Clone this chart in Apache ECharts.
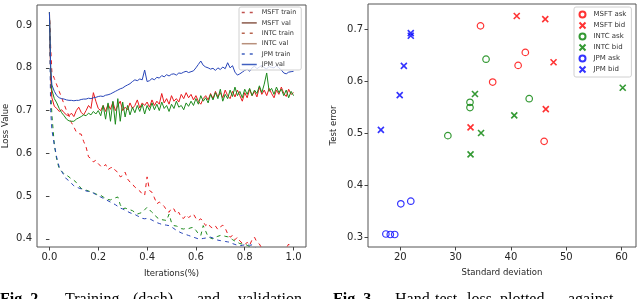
<!DOCTYPE html>
<html><head><meta charset="utf-8">
<script src="https://cdn.jsdelivr.net/npm/echarts@6/dist/echarts.min.js"></script>
<style>html,body{margin:0;padding:0;background:#fff}#c{width:640px;height:299px}</style>
</head><body><div id="c"></div>
<script>
// ---------- Left chart data ----------
var iterations = [0,0.005,0.01,0.02,0.03,0.04,0.05,0.06,0.07,0.08,0.09,0.10,0.11,0.12,0.13,0.14,0.15,0.16,0.17,0.18,0.19,0.20,0.21,0.22,0.23,0.24,0.25,0.26,0.27,0.28,0.29,0.30,0.31,0.32,0.33,0.34,0.35,0.36,0.37,0.38,0.39,0.40,0.41,0.42,0.43,0.44,0.45,0.46,0.47,0.48,0.49,0.50,0.51,0.52,0.53,0.54,0.55,0.56,0.57,0.58,0.59,0.60,0.61,0.62,0.63,0.64,0.65,0.66,0.67,0.68,0.69,0.70,0.71,0.72,0.73,0.74,0.75,0.76,0.77,0.78,0.79,0.80,0.81,0.82,0.83,0.84,0.85,0.86,0.87,0.88,0.89,0.90,0.91,0.92,0.93,0.94,0.95,0.96,0.97,0.98,0.99,1.00];

var msftTrain = [0.93,0.85,0.79,0.775,0.76,0.745,0.73,0.715,0.70,0.688,0.672,0.662,0.650,0.646,0.645,0.628,0.615,0.592,0.588,0.580,0.584,0.576,0.570,0.568,0.574,0.562,0.566,0.568,0.560,0.556,0.545,0.548,0.556,0.540,0.533,0.528,0.521,0.517,0.512,0.505,0.502,0.545,0.513,0.509,0.496,0.482,0.486,0.482,0.476,0.467,0.462,0.472,0.470,0.458,0.462,0.450,0.448,0.456,0.450,0.454,0.458,0.448,0.443,0.447,0.440,0.431,0.436,0.428,0.425,0.430,0.422,0.428,0.432,0.425,0.412,0.404,0.408,0.398,0.404,0.395,0.390,0.386,0.392,0.385,0.398,0.404,0.392,0.388,0.378,0.372,0.370,0.368,0.372,0.365,0.368,0.362,0.366,0.370,0.378,0.388,0.372,0.365];
var msftVal = [0.93,0.78,0.73,0.71,0.705,0.698,0.702,0.695,0.690,0.688,0.694,0.686,0.700,0.708,0.696,0.690,0.700,0.712,0.705,0.742,0.722,0.705,0.700,0.712,0.698,0.715,0.703,0.720,0.700,0.712,0.722,0.700,0.708,0.702,0.718,0.705,0.712,0.725,0.706,0.718,0.712,0.720,0.708,0.725,0.712,0.722,0.715,0.740,0.718,0.728,0.715,0.735,0.722,0.728,0.720,0.738,0.728,0.742,0.730,0.738,0.725,0.735,0.722,0.715,0.728,0.735,0.725,0.740,0.728,0.745,0.732,0.742,0.730,0.748,0.735,0.728,0.745,0.732,0.748,0.735,0.722,0.742,0.730,0.750,0.735,0.745,0.732,0.755,0.738,0.748,0.735,0.752,0.740,0.730,0.748,0.738,0.755,0.740,0.733,0.750,0.738,0.742];
var intcTrain = [0.93,0.75,0.69,0.62,0.585,0.564,0.558,0.552,0.549,0.545,0.540,0.537,0.532,0.525,0.518,0.516,0.514,0.512,0.510,0.508,0.505,0.503,0.502,0.498,0.495,0.492,0.491,0.494,0.496,0.498,0.480,0.470,0.472,0.470,0.468,0.466,0.462,0.458,0.460,0.462,0.468,0.474,0.468,0.462,0.458,0.450,0.447,0.445,0.444,0.443,0.458,0.438,0.431,0.430,0.428,0.424,0.423,0.425,0.424,0.426,0.427,0.420,0.412,0.408,0.431,0.418,0.405,0.402,0.400,0.404,0.406,0.408,0.408,0.406,0.405,0.404,0.398,0.395,0.392,0.389,0.388,0.388,0.385,0.382,0.379,0.377,0.375,0.373,0.372,0.370,0.369,0.368,0.367,0.366,0.365,0.364,0.363,0.362,0.362,0.361,0.360,0.360];
var intcVal = [0.93,0.80,0.748,0.728,0.718,0.705,0.695,0.688,0.680,0.676,0.675,0.675,0.680,0.683,0.686,0.690,0.688,0.694,0.690,0.698,0.692,0.700,0.688,0.712,0.680,0.718,0.675,0.722,0.668,0.728,0.675,0.720,0.685,0.712,0.690,0.708,0.695,0.712,0.698,0.715,0.692,0.712,0.700,0.718,0.702,0.715,0.700,0.720,0.705,0.712,0.698,0.715,0.705,0.722,0.708,0.712,0.702,0.718,0.710,0.722,0.712,0.728,0.715,0.735,0.722,0.730,0.718,0.738,0.725,0.742,0.728,0.750,0.722,0.738,0.728,0.748,0.733,0.755,0.735,0.745,0.730,0.750,0.738,0.752,0.735,0.748,0.740,0.758,0.742,0.762,0.788,0.745,0.752,0.738,0.755,0.742,0.750,0.735,0.748,0.730,0.745,0.735];
var jpmTrain = [0.93,0.70,0.655,0.62,0.59,0.568,0.558,0.548,0.540,0.536,0.530,0.524,0.521,0.519,0.517,0.515,0.512,0.511,0.510,0.507,0.504,0.500,0.498,0.495,0.492,0.489,0.486,0.483,0.480,0.476,0.472,0.470,0.467,0.464,0.461,0.459,0.457,0.454,0.451,0.448,0.447,0.448,0.447,0.444,0.441,0.438,0.436,0.434,0.433,0.432,0.431,0.428,0.424,0.420,0.417,0.414,0.412,0.410,0.408,0.406,0.404,0.402,0.400,0.400,0.401,0.402,0.404,0.404,0.402,0.399,0.397,0.396,0.395,0.394,0.393,0.392,0.389,0.387,0.385,0.384,0.385,0.386,0.386,0.385,0.386,0.380,0.377,0.375,0.373,0.372,0.371,0.370,0.369,0.368,0.367,0.366,0.365,0.364,0.363,0.362,0.361,0.360];
var jpmVal = [0.93,0.80,0.76,0.745,0.735,0.73,0.728,0.727,0.725,0.724,0.724,0.723,0.724,0.724,0.726,0.727,0.727,0.729,0.728,0.730,0.731,0.733,0.734,0.733,0.736,0.737,0.739,0.742,0.745,0.748,0.751,0.753,0.757,0.760,0.763,0.768,0.772,0.770,0.774,0.772,0.795,0.768,0.770,0.775,0.772,0.778,0.776,0.782,0.779,0.784,0.781,0.785,0.786,0.783,0.788,0.787,0.790,0.792,0.789,0.791,0.793,0.800,0.808,0.816,0.806,0.802,0.800,0.797,0.799,0.794,0.800,0.796,0.802,0.798,0.812,0.800,0.805,0.790,0.783,0.786,0.790,0.794,0.797,0.792,0.800,0.804,0.798,0.802,0.806,0.800,0.798,0.803,0.801,0.800,0.805,0.800,0.795,0.788,0.786,0.790,0.791,0.792];

var lossTicks = [0.4,0.5,0.6,0.7,0.8,0.9];
var iterTicks = [0.0,0.2,0.4,0.6,0.8,1.0];

// ---------- Right chart data ----------
var msftAskX = [34.5,42.6,41.3,36.7,46.0];
var msftAskY = [0.707,0.656,0.631,0.599,0.485];
var msftBidX = [41.05,46.2,47.7,46.3,32.7];
var msftBidY = [0.726,0.720,0.637,0.547,0.512];
var intcAskX = [35.5,32.6,32.6,43.3,28.6];
var intcAskY = [0.643,0.560,0.550,0.567,0.496];
var intcBidX = [33.5,40.6,34.6,32.7,60.2];
var intcBidY = [0.576,0.535,0.501,0.460,0.588];
var jpmAskX = [20.1,21.9,17.4,18.2,19.0];
var jpmAskY = [0.365,0.370,0.307,0.306,0.306];
var jpmBidX = [21.9,21.9,20.65,19.9,16.5];
var jpmBidY = [0.693,0.688,0.630,0.574,0.507];

var sdTicks = [20,30,40,50,60];
var errTicks = [0.3,0.4,0.5,0.6,0.7];

// caption words (justified in the reference)
var cap2Words = ['Fig. 2.','Training','(dash)','and','validation'];
var cap3Words = ['Fig. 3.','Hand','test','loss','plotted','against'];

function pairs(xs, ys){ return xs.map(function(x,i){ return [x, ys[i]]; }); }

var RED='#e8191c', GREEN='#1c8a1c', BLUE='#2845b8';
var FONT='DejaVu Sans';
var XMARK='path://M0,0L10,10M10,0L0,10';

var chart = echarts.init(document.getElementById('c'), null, {renderer:'canvas'});

function lineSeries(name, data, color, dashed){
  return {name:name, type:'line', xAxisIndex:0, yAxisIndex:0, symbol:'none', clip:true,
    data: pairs(iterations, data),
    lineStyle:{color:color, width:1, type: dashed ? [4,4] : 'solid'},
    itemStyle:{color:color}, animation:false, z: dashed?2:3};
}
function scat(name, xs, ys, color, isX){
  return {name:name, type:'scatter', xAxisIndex:1, yAxisIndex:1,
    symbol: isX ? XMARK : 'circle', symbolSize: isX ? 6 : 6.5,
    data: pairs(xs, ys),
    itemStyle: isX ? {color:'none', borderColor:color, borderWidth:1.6}
                   : {color:'none', borderColor:color, borderWidth:1.2},
    animation:false};
}
function legLine(name, color, dashed){
  return {name:name, itemStyle:{opacity:0}, lineStyle:{color:color, width:1.5, type: dashed ? [3,5] : 'solid'}};
}

var axisLabelStyle = {fontFamily:FONT, fontSize:10, color:'#262626'};
var nameStyle = {fontFamily:FONT, fontSize:8.5, color:'#262626'};

var cap2X = [0,65,133,197,238];
var cap3X = [333,395,435,467,500,568];
var graphics = [];
cap2Words.forEach(function(w,i){
  graphics.push({type:'text', left:cap2X[i], top:292, silent:true,
    style:{text:w, fontSize:16, fontFamily:'Liberation Serif', fontWeight: i===0?'bold':'normal', fill:'#000'}});
});
cap3Words.forEach(function(w,i){
  graphics.push({type:'text', left:cap3X[i], top:292, silent:true,
    style:{text:w, fontSize:16, fontFamily:'Liberation Serif', fontWeight: i===0?'bold':'normal', fill:'#000'}});
});

chart.setOption({
  animation:false,
  grid:[
    {left:34, top:5, width:272, height:242, show:true, borderColor:'#555', borderWidth:1, backgroundColor:'transparent'},
    {left:368, top:4, width:268, height:243, show:true, borderColor:'#555', borderWidth:1, backgroundColor:'transparent'}
  ],
  xAxis:[
    {type:'value', gridIndex:0, min:-0.051, max:1.051, name:'Iterations(%)', nameLocation:'middle', nameGap:22, nameTextStyle:nameStyle,
     axisLine:{show:false}, splitLine:{show:false},
     axisTick:{show:true, inside:false, length:3.5, lineStyle:{color:'#444'}, customValues:iterTicks},
     axisLabel:Object.assign({margin:5, customValues:iterTicks, formatter:function(v){return v.toFixed(1);}}, axisLabelStyle)},
    {type:'value', gridIndex:1, min:14.17, max:62.6, name:'Standard deviation', nameLocation:'middle', nameGap:21, nameTextStyle:nameStyle,
     axisLine:{show:false}, splitLine:{show:false},
     axisTick:{show:true, inside:false, length:3.5, lineStyle:{color:'#444'}, customValues:sdTicks},
     axisLabel:Object.assign({margin:5, customValues:sdTicks, formatter:function(v){return String(Math.round(v));}}, axisLabelStyle)}
  ],
  yAxis:[
    {type:'value', gridIndex:0, min:0.381, max:0.947, name:'Loss Value', nameLocation:'middle', nameGap:27, nameTextStyle:nameStyle,
     axisLine:{show:false}, splitLine:{show:false},
     axisTick:{show:true, inside:false, length:3.5, lineStyle:{color:'#444'}, customValues:lossTicks},
     axisLabel:Object.assign({margin:5, customValues:lossTicks, formatter:function(v){return v.toFixed(1);}}, axisLabelStyle)},
    {type:'value', gridIndex:1, min:0.282, max:0.749, name:'Test error', nameLocation:'middle', nameGap:30, nameTextStyle:nameStyle,
     axisLine:{show:false}, splitLine:{show:false},
     axisTick:{show:true, inside:false, length:3.5, lineStyle:{color:'#444'}, customValues:errTicks},
     axisLabel:Object.assign({margin:5, customValues:errTicks, formatter:function(v){return v.toFixed(1);}}, axisLabelStyle)}
  ],
  legend:[
    {orient:'vertical', left:239, top:7, itemWidth:15, itemHeight:7, itemGap:3.4, padding:[2,5,2,2],
     backgroundColor:'rgba(255,255,255,0.8)', borderColor:'#d0d0d0', borderWidth:1, borderRadius:2,
     textStyle:{fontFamily:FONT, fontSize:6.5, color:'#333'},
     data:[
       legLine('MSFT train', '#c0504d', true),
       legLine('MSFT val', '#8b5a4b', false),
       legLine('INTC train', '#b8644f', true),
       legLine('INTC val', '#b8907c', false),
       legLine('JPM train', '#4060c0', true),
       legLine('JPM val', '#4060c0', false)
     ]},
    {orient:'vertical', left:574, top:7, itemWidth:12, itemHeight:6, itemGap:0, padding:[2,5,2,3],
     backgroundColor:'rgba(255,255,255,0.8)', borderColor:'#d0d0d0', borderWidth:1, borderRadius:2,
     textStyle:{fontFamily:FONT, fontSize:7, color:'#333'},
     data:['MSFT ask','MSFT bid','INTC ask','INTC bid','JPM ask','JPM bid']}
  ],
  series:[
    lineSeries('MSFT train', msftTrain, RED, true),
    lineSeries('MSFT val', msftVal, RED, false),
    lineSeries('INTC train', intcTrain, GREEN, true),
    lineSeries('INTC val', intcVal, GREEN, false),
    lineSeries('JPM train', jpmTrain, BLUE, true),
    lineSeries('JPM val', jpmVal, BLUE, false),
    scat('MSFT ask', msftAskX, msftAskY, '#ff0000', false),
    scat('MSFT bid', msftBidX, msftBidY, '#ff0000', true),
    scat('INTC ask', intcAskX, intcAskY, '#008000', false),
    scat('INTC bid', intcBidX, intcBidY, '#008000', true),
    scat('JPM ask', jpmAskX, jpmAskY, '#0000ff', false),
    scat('JPM bid', jpmBidX, jpmBidY, '#0000ff', true)
  ],
  graphic: graphics
});
</script></body></html>
